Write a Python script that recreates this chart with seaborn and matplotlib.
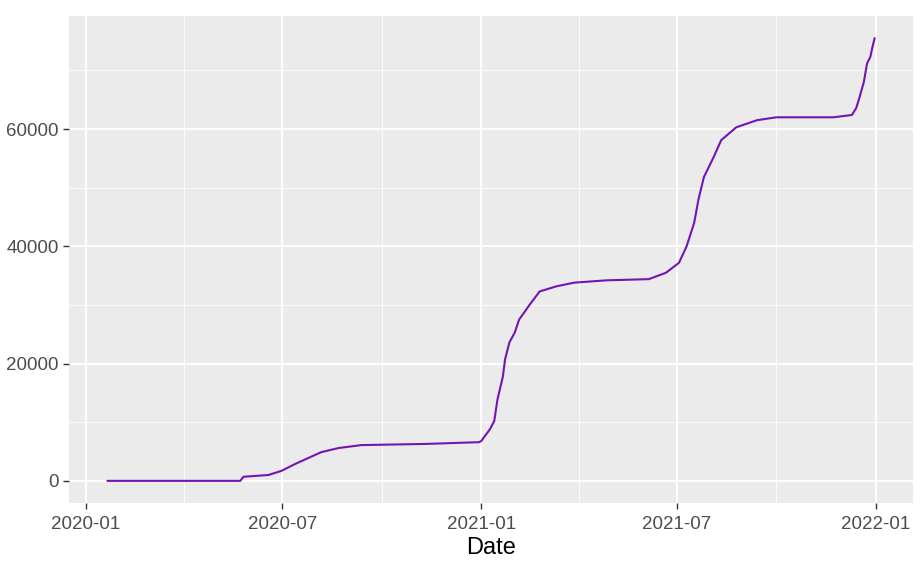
import matplotlib
matplotlib.use("Agg")
import matplotlib.pyplot as plt
import matplotlib.dates as mdates
import seaborn as sns
import pandas as pd
import numpy as np

dates = ["2020-01-21", "2020-05-23", "2020-05-26", "2020-06-18", "2020-06-30",
         "2020-07-13", "2020-07-25", "2020-08-06", "2020-08-22", "2020-09-12",
         "2020-11-11", "2020-12-30", "2021-01-01", "2021-01-09", "2021-01-13",
         "2021-01-16", "2021-01-21", "2021-01-23", "2021-01-27", "2021-02-01",
         "2021-02-05", "2021-02-15", "2021-02-24", "2021-03-12", "2021-03-28",
         "2021-04-27", "2021-06-05", "2021-06-21", "2021-07-03", "2021-07-10",
         "2021-07-17", "2021-07-21", "2021-07-26", "2021-08-04", "2021-08-11",
         "2021-08-25", "2021-09-13", "2021-10-01", "2021-11-23", "2021-12-10",
         "2021-12-14", "2021-12-17", "2021-12-21", "2021-12-24", "2021-12-27",
         "2021-12-29", "2021-12-31"]
values = [0, 0, 700, 1000, 1700,
          2900, 3900, 4900, 5600, 6100,
          6300, 6600, 6800, 8800, 10200,
          13900, 17800, 20700, 23600, 25300,
          27500, 30100, 32300, 33200, 33800,
          34200, 34400, 35500, 37200, 40000,
          44000, 48000, 51800, 55200, 58100,
          60300, 61500, 62000, 62000, 62400,
          63600, 65400, 68000, 71200, 72300,
          74000, 75500]
x_ticks = ["2020-01-01", "2020-07-01", "2021-01-01", "2021-07-01", "2022-01-01"]
x_minor = ["2020-04-01", "2020-10-01", "2021-04-01", "2021-10-01"]
y_ticks = [0, 20000, 40000, 60000]
y_minor = [10000, 30000, 50000, 70000]

df = pd.DataFrame({"Date": pd.to_datetime(dates), "value": values})

sns.set_style("white")
plt.rcParams["font.family"] = ["Liberation Sans", "DejaVu Sans"]

fig = plt.figure(figsize=(9.24, 5.64), dpi=100)
# panel: x 69..913 px, y 16..503 px
ax = fig.add_axes([69 / 924, 1 - 503 / 564, (913 - 69) / 924, (503 - 16) / 564])
ax.set_facecolor("#EBEBEB")

sns.lineplot(data=df, x="Date", y="value", color="#7414B4", linewidth=1.5, ax=ax, zorder=3)

# limits with ggplot-style 5% expansion
dmin, dmax = df["Date"].min(), df["Date"].max()
span = dmax - dmin
ax.set_xlim(dmin - span * 0.05, dmax + span * 0.05)
vr = max(values) - min(values)
ax.set_ylim(min(values) - 0.05 * vr, max(values) + 0.05 * vr)

ax.set_xticks(pd.to_datetime(x_ticks))
ax.set_xticks(pd.to_datetime(x_minor), minor=True)
ax.xaxis.set_major_formatter(mdates.DateFormatter("%Y-%m"))
ax.set_yticks(y_ticks)
ax.set_yticks(y_minor, minor=True)
ax.set_yticklabels([str(v) for v in y_ticks])

ax.grid(which="major", color="white", linewidth=1.3)
ax.grid(which="minor", color="white", linewidth=0.6)
ax.set_axisbelow(True)
for s in ax.spines.values():
    s.set_visible(False)

ax.tick_params(axis="both", which="major", length=4.5, width=1.0, color="#333333",
               labelcolor="#4D4D4D", labelsize=13.5, pad=3, direction="out",
               bottom=True, left=True)
ax.tick_params(axis="x", which="major", pad=5)
ax.tick_params(axis="both", which="minor", length=0)

ax.set_xlabel("Date", fontsize=17, color="black", labelpad=3)
ax.set_ylabel("")

fig.savefig("out.png", dpi=100)
